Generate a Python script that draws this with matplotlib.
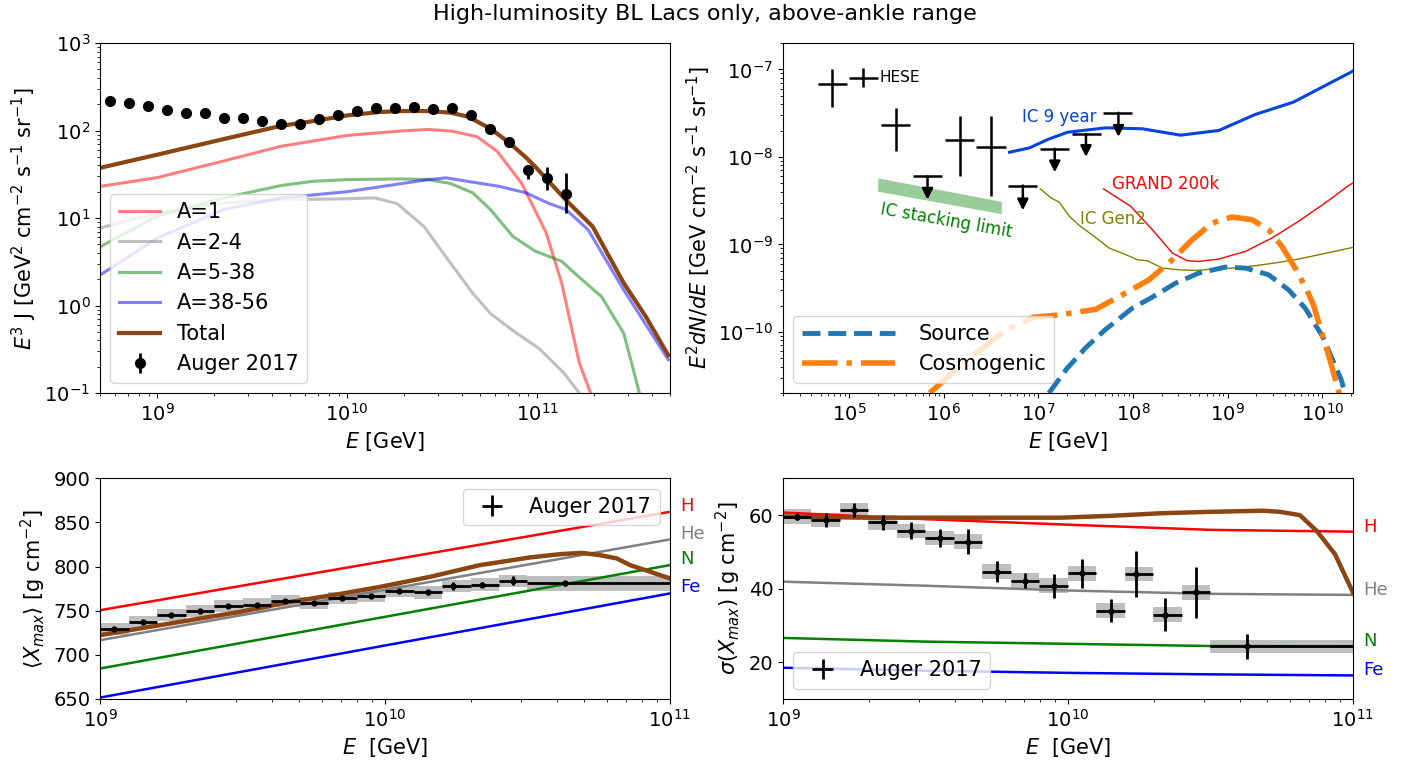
import numpy as np
import matplotlib
matplotlib.use('Agg')
import matplotlib.pyplot as plt

plt.rcParams['font.size'] = 14
plt.rcParams['xtick.labelsize'] = 14
plt.rcParams['ytick.labelsize'] = 14

brown = '#8B4513'

# ---------------- UHECR spectrum (top left) ----------------
auger_logE = [8.75, 8.85, 8.95, 9.05, 9.15, 9.25, 9.35, 9.45, 9.55, 9.65, 9.75, 9.85, 9.95,
              10.05, 10.15, 10.25, 10.35, 10.45, 10.55, 10.65, 10.75, 10.85, 10.95, 11.05, 11.15]
auger_J = [218, 208, 191, 170, 160, 157, 138, 140, 127, 120, 120, 134, 149,
           166, 180, 180, 187, 175, 180, 151, 105, 74, 35, 29, 19]
auger_J_lo = [3, 3, 3, 2, 2, 2, 2, 2, 2, 2, 2, 2, 3, 3, 3, 3, 4, 4, 5, 5, 5, 5, 7, 8, 7.5]
auger_J_hi = [3, 3, 3, 2, 2, 2, 2, 2, 2, 2, 2, 2, 3, 3, 3, 3, 4, 4, 5, 5, 5, 5, 5, 9, 14]

a1_logE = [8.70, 9.0, 9.351, 9.65, 10.0, 10.287, 10.427, 10.556, 10.684, 10.789, 10.918, 11.047, 11.129, 11.222, 11.281, 11.32]
a1_J = [23, 29, 45, 66, 88, 99, 103, 98, 85, 58, 25, 6.8, 1.8, 0.22, 0.1, 0.05]

a2_logE = [8.70, 9.0, 9.351, 9.65, 10.0, 10.146, 10.263, 10.404, 10.544, 10.661, 10.754, 10.871, 11.012, 11.140, 11.222, 11.26]
a2_J = [7.7, 11.4, 14.8, 16.2, 16.6, 17.0, 14.6, 8.0, 3.05, 1.38, 0.81, 0.52, 0.32, 0.17, 0.1, 0.07]

a3_logE = [8.70, 9.0, 9.351, 9.65, 9.819, 10.0, 10.287, 10.427, 10.544, 10.661, 10.754, 10.871, 10.988, 11.129, 11.222, 11.339, 11.456, 11.538, 11.56]
a3_J = [4.7, 10.5, 17, 23.5, 26.3, 27.5, 28, 27.5, 24.8, 19.4, 12.5, 6.2, 4.2, 3.2, 2.1, 1.26, 0.48, 0.1, 0.07]

a4_logE = [8.70, 9.0, 9.351, 9.65, 10.0, 10.287, 10.427, 10.52, 10.661, 10.801, 10.942, 11.058, 11.152, 11.269, 11.456, 11.69]
a4_J = [2.24, 5.9, 12.5, 17, 20, 24.8, 27.5, 28.8, 25.7, 23, 19.4, 14.8, 12.5, 7.3, 1.5, 0.24]

tot_logE = [8.70, 9.0, 9.351, 9.65, 9.819, 10.0, 10.17, 10.287, 10.427, 10.544, 10.637, 10.754, 10.848, 10.942, 10.988, 11.152, 11.292, 11.456, 11.573, 11.69]
tot_J = [37.5, 53, 80, 113, 128, 149, 163, 167, 167, 160, 144, 105, 74, 49, 39, 16, 8.0, 1.8, 0.74, 0.27]

comp_labels = ['A=1', 'A=2-4', 'A=5-38', 'A=38-56']
comp_colors = ['r', 'gray', 'g', 'b']

# ---------------- neutrinos (top right) ----------------
hese_logE = [4.824, 5.150, 5.491, 6.168, 6.502]
hese_logE_lo = [4.670, 5.003, 5.337, 6.010, 6.344]
hese_logE_hi = [4.976, 5.308, 5.642, 6.319, 6.660]
hese_logF = [-7.172, -7.095, -7.641, -7.802, -7.886]
hese_logF_lo = [-7.427, -7.198, -7.935, -8.222, -8.443]
hese_logF_hi = [-7.0, -6.989, -7.439, -7.534, -7.534]

ul_logE = [5.828, 6.835, 7.172, 7.502, 7.845]
ul_logE_lo = [5.677, 6.677, 7.018, 7.354, 7.687]
ul_logE_hi = [5.986, 6.986, 7.326, 7.660, 7.992]
ul_logF = [-8.222, -8.328, -7.908, -7.737, -7.496]
ul_logF_tip = [-8.489, -8.611, -8.176, -8.000, -7.771]

stack_logE = [5.302, 6.607]
stack_logF_top = [-8.240, -8.508]
stack_logF_bot = [-8.392, -8.649]

ic9_logE = [6.695, 6.905, 7.10, 7.308, 7.712, 8.098, 8.502, 8.905, 9.291, 9.694, 10.29, 10.32]
ic9_logF = [-7.947, -7.897, -7.80, -7.718, -7.668, -7.679, -7.752, -7.698, -7.515, -7.374, -7.038, -7.02]

grand_logE = [7.687, 7.975, 8.203, 8.414, 8.571, 8.694, 8.905, 9.186, 9.467, 9.747, 10.028, 10.291, 10.32]
grand_logF = [-8.366, -8.565, -8.832, -9.099, -9.187, -9.195, -9.168, -9.080, -8.927, -8.737, -8.527, -8.317, -8.30]

gen2_logE = [7.021, 7.133, 7.221, 7.326, 7.431, 7.589, 7.747, 7.923, 8.045, 8.150, 8.308, 8.484, 8.660,
             8.835, 9.045, 9.291, 9.537, 9.747, 9.993, 10.291, 10.32]
gen2_logF = [-8.366, -8.469, -8.519, -8.679, -8.783, -8.909, -9.042, -9.118, -9.176, -9.187, -9.271, -9.290,
             -9.298, -9.282, -9.271, -9.244, -9.206, -9.168, -9.111, -9.042, -9.035]

src_logE = [7.11, 7.3, 7.5, 7.7, 7.992, 8.203, 8.449, 8.694, 8.975, 9.186, 9.431, 9.642, 9.818, 10.0, 10.2, 10.25]
src_logF = [-10.70, -10.42, -10.18, -9.98, -9.729, -9.603, -9.443, -9.328, -9.260, -9.271, -9.347, -9.519,
            -9.729, -10.05, -10.55, -10.75]

cosmo_logE = [5.85, 6.09, 6.377, 6.66, 6.95, 7.23, 7.607, 7.887, 8.168, 8.414, 8.624, 8.835, 9.045, 9.256,
              9.431, 9.572, 9.712, 9.835, 9.905, 10.08, 10.18]
cosmo_logF = [-10.70, -10.47, -10.21, -9.977, -9.832, -9.805, -9.741, -9.576, -9.405, -9.176, -8.947, -8.756,
              -8.687, -8.718, -8.832, -9.023, -9.271, -9.519, -9.691, -10.32, -10.72]

# ---------------- Xmax (bottom) ----------------
bin_edges = [9.0, 9.1, 9.2, 9.3, 9.4, 9.5, 9.6, 9.7, 9.8, 9.9, 10.0, 10.1, 10.2, 10.3, 10.4, 10.5, 11.0]
xmax_logE = [9.05, 9.15, 9.25, 9.35, 9.45, 9.55, 9.65, 9.75, 9.85, 9.95, 10.05, 10.15, 10.24, 10.34, 10.45, 10.63]
xmax_val = [729.1, 737.3, 744.9, 749.5, 755.5, 757.0, 760.8, 758.9, 764.6, 766.5, 772.5, 770.7, 777.8, 779.7, 783.9, 780.9]
xmax_stat = [1.5, 1.5, 1.5, 1.5, 1.5, 1.5, 2, 2, 2, 2, 2.5, 2.5, 4.5, 3, 5, 3]
xmax_sys = [7, 7, 7, 7, 7, 7, 7, 7, 7, 7, 7, 7, 7, 7, 7, 8]

sig_val = [59.6, 58.7, 61.4, 58.0, 55.7, 53.8, 52.8, 44.6, 42.2, 40.8, 44.2, 34.0, 44.0, 32.9, 39.0, 24.3]
sig_stat = [1.0, 1.9, 1.9, 2.0, 2.3, 2.5, 3.3, 2.8, 2.1, 3.3, 4.0, 3.1, 6.2, 4.5, 7.0, 3.5]
sig_sys = [2, 2, 2, 2, 2, 2, 2, 2, 2, 2, 2, 2, 2, 2, 2, 1.8]

nuc_names = ['H', 'He', 'N', 'Fe']
nuc_colors = ['r', 'gray', 'g', 'b']
nuc_logE = [9.0, 10.0, 11.0]
nuc_xmax = [[750.6, 806.3, 862.1], [716.6, 773.7, 830.8], [684.5, 743.1, 801.7], [651.6, 710.6, 769.6]]
nuc_label_xmax = [869, 837, 809, 777]
sig_logE = [9.0, 9.5, 10.0, 10.5, 11.0]
nuc_sig = [[60.7, 58.9, 57.4, 56.0, 55.5], [41.9, 40.8, 39.5, 38.6, 38.3],
           [26.6, 25.6, 25.0, 24.4, 24.3], [18.5, 17.7, 17.1, 16.7, 16.4]]
nuc_label_sig = [56.9, 39.7, 25.7, 18.0]

totx_logE = [9.0, 9.14, 9.316, 9.491, 9.667, 9.842, 9.982, 10.158, 10.333, 10.509, 10.614, 10.69, 10.754,
             10.813, 10.86, 10.906, 11.0]
totx_val = [722.3, 729.9, 739.3, 748.7, 760.0, 769.0, 777.0, 788.4, 801.7, 810.4, 814.1, 815.6, 813.0,
            809.3, 801.7, 796.8, 786.6]
tots_logE = [9.0, 9.3, 9.6, 9.972, 10.147, 10.323, 10.498, 10.685, 10.744, 10.814, 10.873, 10.937, 11.0]
tots_val = [59.6, 59.3, 59.3, 59.3, 59.8, 60.5, 60.9, 61.2, 60.9, 60.0, 55.7, 49.4, 39.0]


def p10(a):
    return np.power(10.0, np.asarray(a, dtype=float))


fig = plt.figure(figsize=(14.09, 7.66), dpi=100)
ax1 = fig.add_axes([0.0710, 0.4869, 0.4045, 0.4569])
ax2 = fig.add_axes([0.5557, 0.4869, 0.4045, 0.4569])
ax3 = fig.add_axes([0.0710, 0.0875, 0.4045, 0.2880])
ax4 = fig.add_axes([0.5557, 0.0875, 0.4045, 0.2880])

fig.text(0.5, 0.982, 'High-luminosity BL Lacs only, above-ankle range', ha='center', va='center', fontsize=16)

# top left
for lE, J, lab, c in zip([a1_logE, a2_logE, a3_logE, a4_logE], [a1_J, a2_J, a3_J, a4_J], comp_labels, comp_colors):
    ax1.plot(p10(lE), J, color=c, alpha=0.5, lw=2.2, label=lab)
ax1.plot(p10(tot_logE), tot_J, color=brown, lw=3, label='Total')
ax1.errorbar(p10(auger_logE), auger_J, yerr=[auger_J_lo, auger_J_hi], fmt='o', color='k', ms=7,
             elinewidth=2, label='Auger 2017')
ax1.set_xscale('log')
ax1.set_yscale('log')
ax1.set_xlim(5e8, 5e11)
ax1.set_ylim(0.1, 1000)
ax1.set_xlabel('$E$ [GeV]', fontsize=15)
ax1.set_ylabel('$E^3$ J [GeV$^2$ cm$^{-2}$ s$^{-1}$ sr$^{-1}$]', fontsize=15)
ax1.legend(loc='lower left', fontsize=15)

# top right
hx = p10(hese_logE)
hy = p10(hese_logF)
ax2.errorbar(hx, hy, xerr=[hx - p10(hese_logE_lo), p10(hese_logE_hi) - hx],
             yerr=[hy - p10(hese_logF_lo), p10(hese_logF_hi) - hy], fmt='none', ecolor='k', elinewidth=1.8)
ux = p10(ul_logE)
uy = p10(ul_logF)
ax2.errorbar(ux, uy, xerr=[ux - p10(ul_logE_lo), p10(ul_logE_hi) - ux], fmt='none', ecolor='k', elinewidth=1.8)
for x, y0, y1 in zip(ux, uy, p10(ul_logF_tip)):
    ax2.annotate('', xy=(x, y1), xytext=(x, y0),
                 arrowprops=dict(arrowstyle='-|>', color='k', lw=1.8, mutation_scale=16, shrinkA=0, shrinkB=0))
ax2.fill_between(p10(stack_logE), p10(stack_logF_bot), p10(stack_logF_top), color='g', alpha=0.4, lw=0)
ax2.plot(p10(ic9_logE), p10(ic9_logF), color='xkcd:blue', lw=2.2)
ax2.plot(p10(grand_logE), p10(grand_logF), color='r', lw=1)
ax2.plot(p10(gen2_logE), p10(gen2_logF), color='olive', lw=1)
ax2.plot(p10(src_logE), p10(src_logF), color='tab:blue', ls='--', lw=3.5, label='Source')
ax2.plot(p10(cosmo_logE), p10(cosmo_logF), color='tab:orange', ls='-.', lw=4, label='Cosmogenic')
ax2.text(2.07e5, 8.0e-8, 'HESE', fontsize=11, ha='left', va='center')
ax2.text(6.7e6, 2.86e-8, 'IC 9 year', fontsize=12, color='xkcd:blue', ha='left', va='center')
ax2.text(5.97e7, 4.84e-9, 'GRAND 200k', fontsize=12, color='r', ha='left', va='center')
ax2.text(2.77e7, 1.96e-9, 'IC Gen2', fontsize=12, color='olive', ha='left', va='center')
ax2.text(2.17e5, 2.53e-9, 'IC stacking limit', fontsize=12, color='g', ha='left', va='center',
         rotation=-10, rotation_mode='anchor')
ax2.set_xscale('log')
ax2.set_yscale('log')
ax2.set_xlim(2e4, 2.1e10)
ax2.set_ylim(2e-11, 2e-7)
ax2.set_xlabel('$E$ [GeV]', fontsize=15)
ax2.set_ylabel('$E^2dN/dE$ [GeV cm$^{-2}$ s$^{-1}$ sr$^{-1}$]', fontsize=15)
ax2.legend(loc='lower left', fontsize=15, handlelength=4.5, handletextpad=1.1)

# bottom panels
edges = p10(bin_edges)
xe = p10(xmax_logE)
for ax, vals, stat, sys_, nuc_x, nuc_vals, lab_y, tx, tv, legloc in [
        (ax3, xmax_val, xmax_stat, xmax_sys, nuc_logE, nuc_xmax, nuc_label_xmax, totx_logE, totx_val, 'upper right'),
        (ax4, sig_val, sig_stat, sig_sys, sig_logE, nuc_sig, nuc_label_sig, tots_logE, tots_val, 'lower left')]:
    for name, c, nv, ly in zip(nuc_names, nuc_colors, nuc_vals, lab_y):
        ax.plot(p10(nuc_x), nv, color=c, lw=1.8)
        ax.text(1.09e11, ly, name, color=c, fontsize=13, ha='left', va='center')
    ax.plot(p10(tx), tv, color=brown, lw=3.2)
    vals = np.asarray(vals)
    sys_ = np.asarray(sys_)
    ax.bar(edges[:-1], 2 * sys_, width=np.diff(edges), bottom=vals - sys_, align='edge',
           color='gray', alpha=0.5, lw=0)
    ax.errorbar(xe, vals, xerr=[xe - edges[:-1], edges[1:] - xe], yerr=stat, fmt='none',
                ecolor='k', elinewidth=2, label='Auger 2017')
    ax.plot(xe, vals, 'k.', ms=7)
    ax.set_xscale('log')
    ax.set_xlim(1e9, 1e11)
    ax.set_xlabel('$E$  [GeV]', fontsize=15)
    ax.legend(loc=legloc, fontsize=15)

ax3.set_ylim(650, 900)
ax3.set_ylabel(r'$\langle X_{max} \rangle$ [g cm$^{-2}$]', fontsize=15)
ax4.set_ylim(10, 70)
ax4.set_yticks([20, 40, 60])
ax4.set_ylabel(r'$\sigma(X_{max})$ [g cm$^{-2}$]', fontsize=15)

fig.savefig('out.png', dpi=100)
